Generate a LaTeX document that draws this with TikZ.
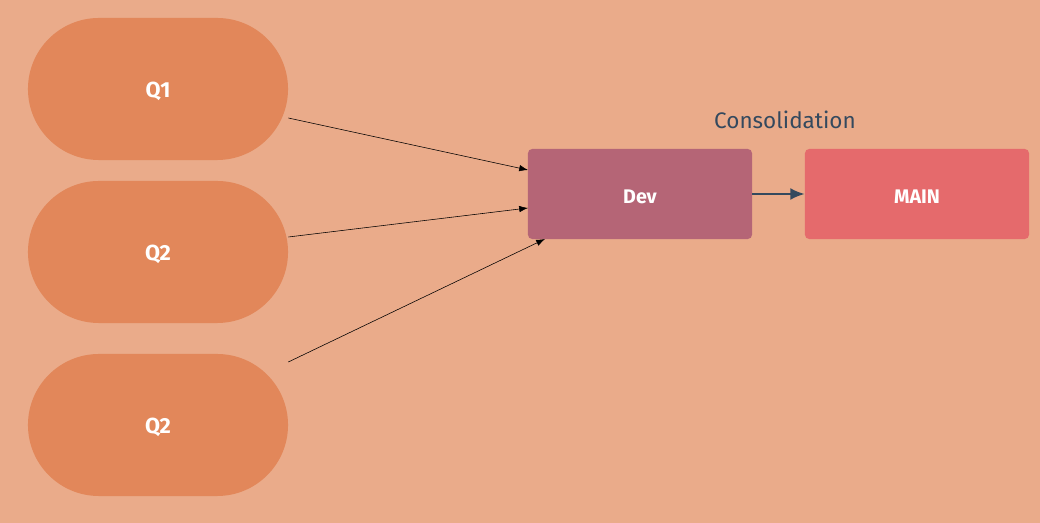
\documentclass[tikz,border=0pt]{standalone}
\usepackage{fontspec}
\usetikzlibrary{arrows.meta}
\setmainfont{Fira Sans}
\definecolor{bg}{HTML}{EAAB8A}
\definecolor{qfill}{HTML}{E2875A}
\definecolor{devfill}{HTML}{B56576}
\definecolor{mainfill}{HTML}{E56A6C}
\definecolor{navy}{HTML}{34495E}
\newcommand{\lowtext}[1]{\raisebox{-2pt}[\height][\depth]{#1}}
\begin{document}
\begin{tikzpicture}[>={Latex[length=2.2mm,width=1.6mm]},x=0.025cm,y=-0.025cm,
    qbox/.style={fill=qfill, minimum width=6.5cm, minimum height=3.55cm, rounded corners=1.775cm, text=white, font=\fontsize{15.5}{18}\selectfont\bfseries},
    repo/.style={fill=#1, minimum width=5.6cm, minimum height=2.25cm, rounded corners=3pt, text=white, font=\fontsize{14}{16}\selectfont\bfseries}]

\fill[bg] (0,0) rectangle (1040,523);

    \node[qbox] (q1) at (158,89) {\lowtext{Q1}};
    \node[qbox] (q2) at (158,252) {\lowtext{Q2}};
    \node[qbox] (q3) at (158,425) {\lowtext{Q2}};
\node[repo=devfill] (dev) at (640,194) {\lowtext{Dev}};
\node[repo=mainfill] (main) at (917,194) {\lowtext{MAIN}};
\node[text=navy, font=\fontsize{16}{18}\selectfont] (cons) at (785,120) {Consolidation};

\coordinate (d1) at (528,170);
\coordinate (d2) at (528,208);
\coordinate (d3) at (545,239);
\draw[->](q1.east |- 0,118)--(d1);
\draw[->](q2.east |- 0,237)--(d2);
\draw[->](q3.east |- 0,362)--(d3);
\draw[-{Latex[length=3.6mm,width=3mm]}, navy, line width=1.6pt](dev)--(main);
\end{tikzpicture}
\end{document}
